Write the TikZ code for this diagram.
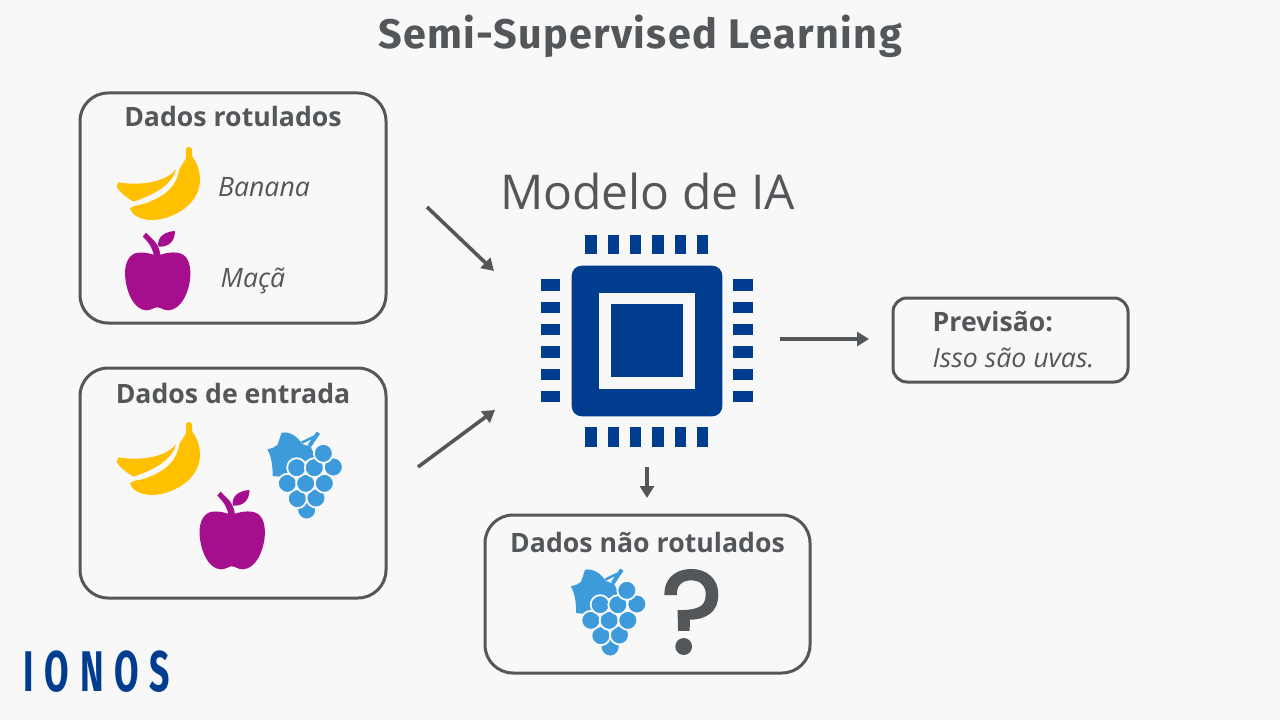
\documentclass[tikz,border=0pt]{standalone}
\usepackage{fontspec}
\setmainfont{Open Sans}
\newfontfamily\titlefont{Fira Sans}
\newfontfamily\questfont[FakeBold=2]{Poppins}
\usetikzlibrary{arrows.meta}

\definecolor{pagebg}{HTML}{F8F8F9}
\definecolor{inkgrey}{HTML}{54575A}
\definecolor{chipblue}{HTML}{003D8F}
\definecolor{bananay}{HTML}{FFC000}
\definecolor{applep}{HTML}{A50E8C}
\definecolor{grapeb}{HTML}{3D9BDC}

\newcommand{\pxl}[1]{#1*0.75pt}
\newcommand{\dbox}{\node[databox]}
\newcommand{\hd}{\node[boxhead]}
\newcommand{\fn}{\node[fruitname]}

\tikzset{
    x=0.75pt, y=-0.75pt,
    databox/.style={draw=inkgrey, line width=\pxl{3}, rounded corners=\pxl{28}},
    boxhead/.style={text=inkgrey, font=\fontsize{20}{24}\selectfont\bfseries},
    fruitname/.style={text=inkgrey, font=\fontsize{20}{24}\selectfont\itshape},
    flow/.style={draw=inkgrey, line width=\pxl{3.6}, -{Triangle[length=\pxl{12}, width=\pxl{14}]}},
    pin/.style={fill=chipblue},
    pics/banana/.style={code={
        \begin{scope}[shift={(100,130)}, scale=1/3]
            \fill[bananay] (55,157) .. controls (100,165) and (190,165) .. (228,118)
                .. controls (220,150) and (190,185) .. (100,215)
                .. controls (85,205) and (60,190) .. (50,170) -- cycle;
            \fill[bananay] (258,55) .. controls (262,49) and (272,49) .. (275,55) -- (277,80)
                .. controls (300,110) and (305,150) .. (295,180)
                .. controls (275,240) and (200,272) .. (150,270)
                .. controls (120,268) and (95,255) .. (90,235)
                .. controls (100,226) and (115,226) .. (130,222)
                .. controls (205,198) and (232,160) .. (238,118) -- (258,85) -- cycle;
        \end{scope}
    }},
    pics/apple/.style={code={
        \begin{scope}[shift={(100,130)}, scale=1/3]
            \fill[applep] (172,378) .. controls (195,368) and (215,366) .. (232,368)
                .. controls (262,372) and (272,400) .. (271,435)
                .. controls (270,480) and (245,540) .. (205,541)
                .. controls (190,541) and (182,532) .. (172,532)
                .. controls (162,532) and (154,541) .. (139,541)
                .. controls (100,540) and (76,480) .. (75,430)
                .. controls (75,395) and (90,370) .. (115,368)
                .. controls (135,366) and (150,370) .. (172,378) -- cycle;
            \fill[applep] (128,320) -- (138,308) -- (165,335)
                .. controls (175,348) and (180,362) .. (182,380) -- (162,380)
                .. controls (160,360) and (150,340) .. (128,320) -- cycle;
            \fill[applep] (225,303) .. controls (195,305) and (170,320) .. (175,350)
                .. controls (205,352) and (225,335) .. (225,303) -- cycle;
        \end{scope}
    }},
    pics/grapes/.style={code={
        \begin{scope}[shift={(190,420)}, scale=1/3]
            \draw[grapeb, line width=\pxl{4}] (385,38) -- (358,78);
            \draw[grapeb, line width=\pxl{2.5}] (335,68) -- (372,50);
            \fill[grapeb] (232,88) .. controls (245,85) and (255,82) .. (262,75)
                .. controls (268,62) and (270,50) .. (275,38)
                .. controls (298,34) and (322,48) .. (336,72)
                -- (362,80) -- (376,112) -- (300,140) -- (290,170)
                .. controls (275,170) and (260,170) .. (248,168)
                .. controls (248,140) and (245,110) .. (232,88) -- cycle;
            \foreach \cx/\cy in {350/270, 322/236, 378/234, 292/190, 347/190, 403/190, 320/143, 373/143, 430/141, 400/100}
                \fill[grapeb, draw=pagebg, line width=\pxl{1.8}] (\cx,\cy) circle[radius=28.5];
        \end{scope}
    }},
}

\begin{document}
\begin{tikzpicture}
    \fill[pagebg] (0,0) rectangle (1280,720);
    \useasboundingbox (0,0) rectangle (1280,720);

    \node[text=inkgrey, font=\titlefont\fontsize{31}{38}\selectfont\bfseries] (title) at (640,36.5) {\addfontfeature{LetterSpace=3.3}Semi-Supervised Learning};
    \node[text=inkgrey, font=\fontsize{36}{44}\selectfont] (model) at (647.5,192) {Modelo de IA};

    % boxes
    \dbox[minimum width=\pxl{306}, minimum height=\pxl{230}] (labeled) at (233,208) {};
    \dbox[minimum width=\pxl{306}, minimum height=\pxl{230}] (input) at (233,483) {};
    \dbox[minimum width=\pxl{325}, minimum height=\pxl{158}] (unlabeled) at (647.5,594) {};
    \dbox[minimum width=\pxl{235}, minimum height=\pxl{84}, rounded corners=\pxl{14}] (result) at (1010.5,340) {};

    \hd (labeledhd) at (233,116.5) {Dados rotulados};
    \hd (inputhd) at (233,393) {Dados de entrada};
    \hd (unlabeledhd) at (647.5,542) {Dados não rotulados};
    \hd[anchor=west] (resulthd) at (928,322) {Previsão:};

    \fn (bananatxt) at (264,187) {Banana};
    \fn (appletxt) at (253,281) {Maçã};
    \fn[anchor=west] (resulttxt) at (928,358) {Isso são uvas.};

    % fruit
    \pic at (0,0) {banana};
    \pic at (0,0) {apple};
    \pic at (0,275) {banana};
    \pic at (74.5,259) {apple};
    \pic at (0,0) {grapes};
    \pic at (303.5,137) {grapes};
    \node[text=inkgrey, font=\questfont\fontsize{88}{90}\selectfont] (quest) at (692,612) {?};

    % chip
    \fill[chipblue, rounded corners=\pxl{10}] (571.7,265.7) rectangle (722.3,416.3);
    \fill[pagebg] (599.3,293.3) rectangle (694.7,388.5);
    \fill[chipblue] (610.7,304.3) rectangle (683.3,377.3);
    \foreach \k in {0,...,5} {
        \fill[pin] (585.3+22.3*\k,235) rectangle ++(11.3,19.3);
        \fill[pin] (585.3+22.3*\k,427.3) rectangle ++(11.3,19.3);
        \fill[pin] (541,279.3+22.3*\k) rectangle ++(19.3,11.3);
        \fill[pin] (733.3,279.3+22.3*\k) rectangle ++(19.3,11.3);
    }

    \node[text=chipblue, font=\titlefont\fontsize{43}{48}\selectfont\bfseries, xscale=0.62] (logo) at (97,672) {\addfontfeature{LetterSpace=30}IONOS};

    \coordinate (a1s) at (427,207);
    \coordinate (a1e) at (494,271);
    \coordinate (a2s) at (418,467);
    \coordinate (a2e) at (495,410);
    \coordinate (a3s) at (780,339);
    \coordinate (a3e) at (869,339);
    \coordinate (a4s) at (647,467);
    \coordinate (a4e) at (647,498);

    \foreach \s/\e in {a1s/a1e, a2s/a2e, a3s/a3e, a4s/a4e}
        \draw[flow] (\s) -- (\e);
\end{tikzpicture}
\end{document}
